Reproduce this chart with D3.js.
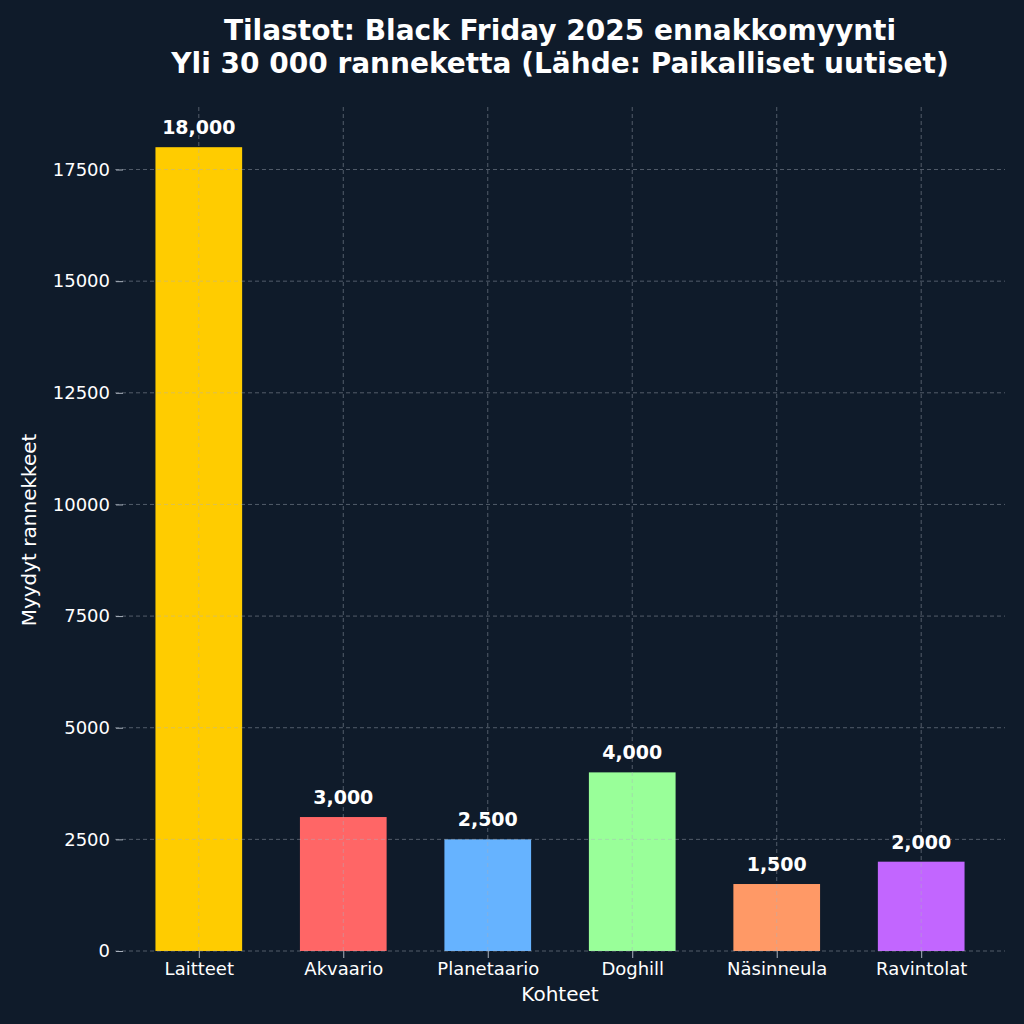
<!DOCTYPE html>
<html><head><meta charset="utf-8">
<script src="https://cdn.jsdelivr.net/npm/d3@7"></script>
<style>body{margin:0;background:#0f1b2a}</style>
</head><body>
<script>
var categories = ["Laitteet", "Akvaario", "Planetaario", "Doghill", "Näsinneula", "Ravintolat"];
var values = [18000, 3000, 2500, 4000, 1500, 2000];
var colors = ["#FFCC00", "#FF6666", "#66B3FF", "#99FF99", "#FF9966", "#C266FF"];
var yTicks = [0, 2500, 5000, 7500, 10000, 12500, 15000, 17500];

var plotLeft = 115, plotRight = 1005, plotTop = 107, plotBottom = 951;

var svg = d3.select('body').append('svg')
    .attr('width', 1024).attr('height', 1024)
    .style('font-family', 'DejaVu Sans, sans-serif');
svg.append('rect').attr('width', 1024).attr('height', 1024).attr('fill', '#0f1b2a');

var x = d3.scaleLinear().domain([-0.58, 5.58]).range([plotLeft, plotRight]);
var y = d3.scaleLinear().domain([0, 18900]).range([plotBottom, plotTop]);
var bw = x(0.3) - x(-0.3);

svg.selectAll('rect.bar').data(values).enter().append('rect')
    .attr('class', 'bar')
    .attr('x', (d, i) => x(i) - bw / 2)
    .attr('y', d => y(d))
    .attr('width', bw)
    .attr('height', d => y(0) - y(d))
    .attr('fill', (d, i) => colors[i]);

// grid on top of bars
var grid = svg.append('g').attr('stroke', '#aab2bd').attr('stroke-opacity', 0.55)
    .attr('stroke-dasharray', '4,3').attr('stroke-width', 0.8);
yTicks.forEach(t => grid.append('line').attr('x1', plotLeft).attr('x2', plotRight).attr('y1', y(t)).attr('y2', y(t)));
categories.forEach((c, i) => grid.append('line').attr('x1', x(i)).attr('x2', x(i)).attr('y1', plotTop).attr('y2', plotBottom));

var yAxis = svg.append('g').attr('transform', `translate(${plotLeft + 8},0)`)
    .call(d3.axisLeft(y).tickValues(yTicks).tickSize(7).tickPadding(6).tickFormat(d3.format('d')));
var xAxis = svg.append('g').attr('transform', `translate(0,${plotBottom})`)
    .call(d3.axisBottom(x).tickValues(d3.range(categories.length)).tickSize(7).tickPadding(4).tickFormat(i => categories[i]));
[yAxis, xAxis].forEach(a => {
    a.select('.domain').remove();
    a.selectAll('line').attr('stroke', '#aab2bd');
    a.selectAll('text').attr('fill', '#ffffff').style('font-size', '18px').style('font-family', 'DejaVu Sans, sans-serif');
});

svg.selectAll('text.val').data(values).enter().append('text')
    .attr('x', (d, i) => x(i)).attr('y', d => y(d) - 13)
    .attr('text-anchor', 'middle').attr('fill', '#ffffff')
    .style('font-size', '19px').style('font-weight', 'bold')
    .text(d => d3.format(',')(d));

svg.append('text').attr('x', 560).attr('y', 1001).attr('text-anchor', 'middle')
    .attr('fill', '#fff').style('font-size', '20px').text('Kohteet');
svg.append('text').attr('transform', 'translate(36,530) rotate(-90)').attr('text-anchor', 'middle')
    .attr('fill', '#fff').style('font-size', '20px').text('Myydyt rannekkeet');

var title = svg.append('text').attr('text-anchor', 'middle')
    .attr('fill', '#fff').style('font-size', '28px').style('font-weight', 'bold');
title.append('tspan').attr('x', 560).attr('y', 40).text('Tilastot: Black Friday 2025 ennakkomyynti');
title.append('tspan').attr('x', 560).attr('y', 73).text('Yli 30 000 ranneketta (Lähde: Paikalliset uutiset)');
</script>
</body></html>
